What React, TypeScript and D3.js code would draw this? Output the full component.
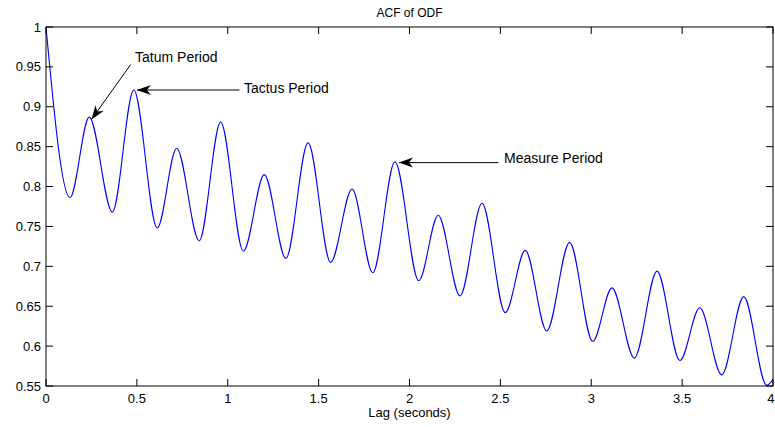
import React from 'react'
import * as d3 from 'd3'

// autocorrelation of the onset detection function: peaks and troughs
const lags = [
  0, 0.132, 0.238, 0.365, 0.483, 0.612, 0.719, 0.843, 0.961, 1.086, 1.201, 1.32,
  1.442, 1.566, 1.684, 1.798, 1.92, 2.051, 2.158, 2.278, 2.399, 2.527, 2.637, 2.755,
  2.881, 3.008, 3.114, 3.237, 3.362, 3.488, 3.597, 3.718, 3.839, 3.965, 4.0,
]
const acf = [
  1.0, 0.786, 0.887, 0.768, 0.921, 0.748, 0.848, 0.732, 0.881, 0.719, 0.815, 0.71,
  0.855, 0.705, 0.797, 0.692, 0.831, 0.682, 0.764, 0.663, 0.779, 0.642, 0.72, 0.619,
  0.73, 0.606, 0.673, 0.585, 0.694, 0.582, 0.648, 0.564, 0.662, 0.551, 0.558,
]

const xTicks = [0, 0.5, 1, 1.5, 2, 2.5, 3, 3.5, 4]
const xTickLabels = ['0', '0.5', '1', '1.5', '2', '2.5', '3', '3.5', '4']
const yTicks = [0.55, 0.6, 0.65, 0.7, 0.75, 0.8, 0.85, 0.9, 0.95, 1]
const yTickLabels = ['0.55', '0.6', '0.65', '0.7', '0.75', '0.8', '0.85', '0.9', '0.95', '1']

// annotations, in data units
const noteText = ['Tatum Period', 'Tactus Period', 'Measure Period']
const noteTip = [[0.25, 0.884], [0.5, 0.921], [1.942, 0.83]]
const noteTail = [[0.466, 0.953], [1.064, 0.921], [2.489, 0.83]]
const noteAt = [[0.49, 0.956], [1.089, 0.917], [2.52, 0.8295]]

const W = 775
const H = 427
const margin = { top: 27, right: 2, bottom: 41, left: 46 }
const font = '"Liberation Sans", Arial, Helvetica, sans-serif'

export default function App() {
  const x = d3.scaleLinear().domain([0, 4]).range([margin.left, W - margin.right])
  const y = d3.scaleLinear().domain([0.55, 1]).range([H - margin.bottom, margin.top])

  const line = d3.line<number>()
    .x((_, i) => x(lags[i]))
    .y(d => y(d))
    .curve(d3.curveMonotoneX)

  const x0 = x(0), x1 = x(4), y0 = y(0.55), y1 = y(1)
  const tick = 7

  const arrowHead = (tx: number, ty: number, fx: number, fy: number) => {
    const a = Math.atan2(ty - fy, tx - fx)
    const len = 14, half = 5, notch = 10
    const pts = [[0, 0], [-len, -half], [-notch, 0], [-len, half]].map(([px, py]) => [
      tx + px * Math.cos(a) - py * Math.sin(a),
      ty + px * Math.sin(a) + py * Math.cos(a),
    ])
    return 'M' + pts.map(p => p.join(',')).join('L') + 'Z'
  }

  return (
    <svg width={W} height={H} style={{ position: 'absolute', left: 0, top: 0, background: '#fff' }}
      fontFamily={font}>
      <rect width={W} height={H} fill="#fff" />
      <clipPath id="plot">
        <rect x={x0} y={y1} width={x1 - x0} height={y0 - y1} />
      </clipPath>

      <path d={line(acf) || ''} fill="none" stroke="#0000ff" strokeWidth={1.1} clipPath="url(#plot)" />

      {/* box and inward ticks on all sides */}
      <rect x={x0} y={y1} width={x1 - x0} height={y0 - y1} fill="none" stroke="#000" strokeWidth={1} />
      {xTicks.map((t, i) => {
        const last = i === xTicks.length - 1
        return (
          <g key={'x' + i}>
            <line x1={x(t)} x2={x(t)} y1={y0} y2={y0 - tick} stroke="#000" />
            <line x1={x(t)} x2={x(t)} y1={y1} y2={y1 + tick} stroke="#000" />
            <text x={last ? W - 0.5 : x(t)} y={y0 + 17} textAnchor={last ? 'end' : 'middle'}
              fontSize={13}>{xTickLabels[i]}</text>
          </g>
        )
      })}
      {yTicks.map((t, i) => (
        <g key={'y' + i}>
          <line x1={x0} x2={x0 + tick} y1={y(t)} y2={y(t)} stroke="#000" />
          <line x1={x1} x2={x1 - tick} y1={y(t)} y2={y(t)} stroke="#000" />
          <text x={x0 - 5} y={y(t) + 4.5} textAnchor="end" fontSize={13}>{yTickLabels[i]}</text>
        </g>
      ))}

      <text x={(x0 + x1) / 2} y={17} textAnchor="middle" fontSize={12}>ACF of ODF</text>
      <text x={(x0 + x1) / 2} y={417} textAnchor="middle" fontSize={13}>Lag (seconds)</text>

      {noteText.map((s, i) => {
        const tx = x(noteTip[i][0]), ty = y(noteTip[i][1])
        const fx = x(noteTail[i][0]), fy = y(noteTail[i][1])
        return (
          <g key={s}>
            <line x1={fx} y1={fy} x2={tx} y2={ty} stroke="#000" strokeWidth={1} />
            <path d={arrowHead(tx, ty, fx, fy)} fill="#000" />
            <text x={x(noteAt[i][0])} y={y(noteAt[i][1])} fontSize={14}>{s}</text>
          </g>
        )
      })}
    </svg>
  )
}
